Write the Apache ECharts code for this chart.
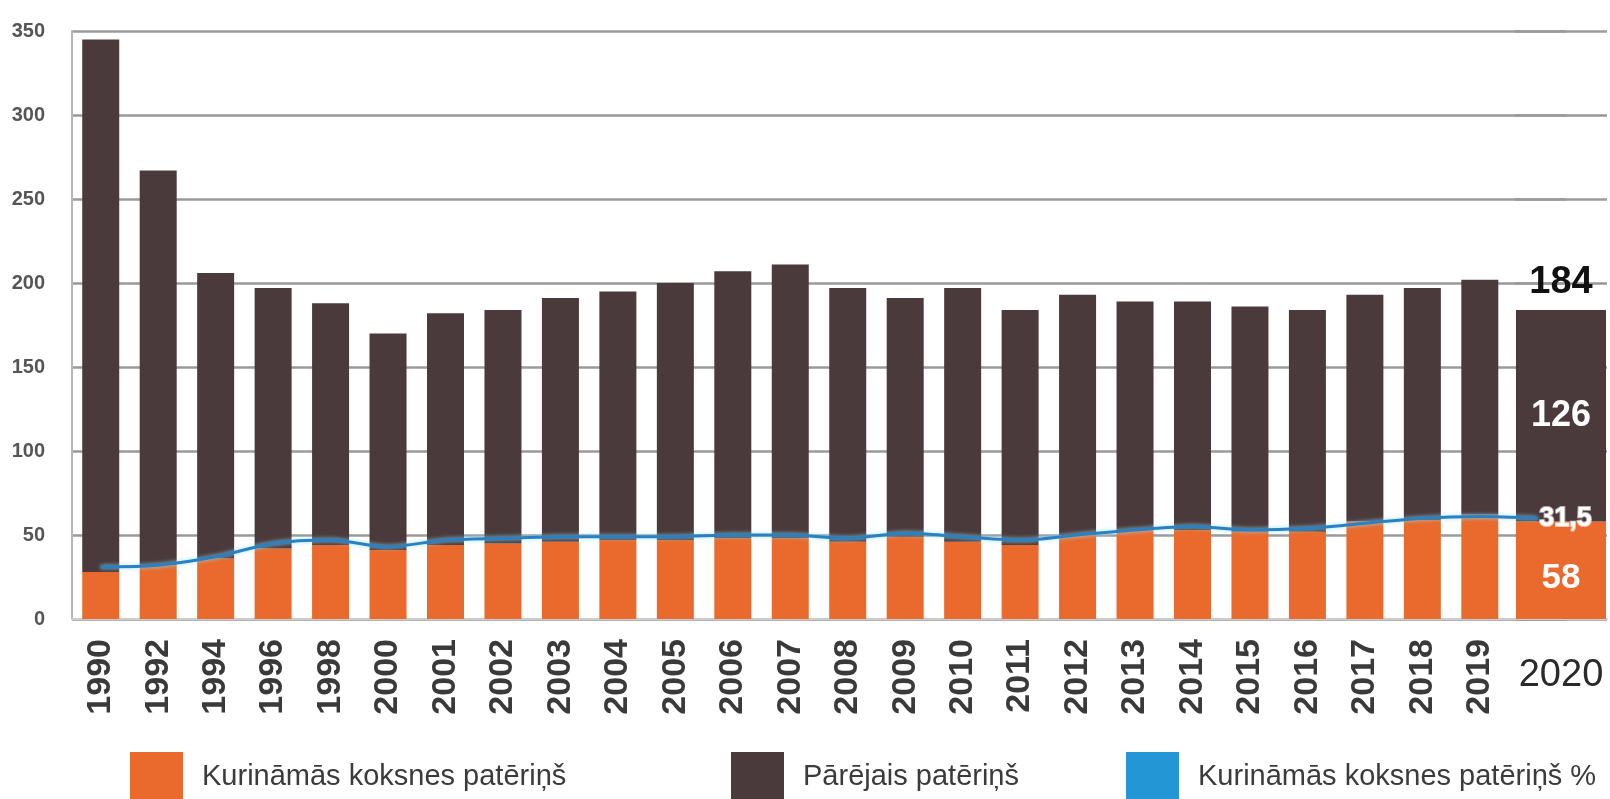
<!DOCTYPE html>
<html>
<head>
<meta charset="utf-8">
<script src="https://cdn.jsdelivr.net/npm/echarts@6/dist/echarts.min.js"></script>
<style>html,body{margin:0;padding:0;background:#fff;}#c{width:1610px;height:799px;}</style>
</head>
<body>
<div id="c"></div>
<script>
// ---- data ----
const years = ['1990','1992','1994','1996','1998','2000','2001','2002','2003','2004','2005','2006','2007','2008','2009','2010','2011','2012','2013','2014','2015','2016','2017','2018','2019','2020'];
const fuelwood = [28,32,36,42,44,41,44,45,46,47,47,48,48,46,49,46,44,50,53,53,52,52,58,59,62,58];
const other    = [317,235,170,155,144,129,138,139,145,148,153,159,163,151,142,151,140,143,136,136,134,132,135,138,140,126];
const shareLine = [31,32,37,45,47,43,47,48,49,49,49,50,50,48,51,49,47,50,53,55,53,54,57,60,61,60];
const shareLastLabel = '31,5';
const yTicks = [0,50,100,150,200,250,300,350];

const NAME_WOOD = 'Kurināmās koksnes patēriņš';
const NAME_OTHER = 'Pārējais patēriņš';
const NAME_PCT = 'Kurināmās koksnes patēriņš %';

const last = years.length - 1;
const FONT = "'Liberation Sans',Arial,sans-serif";
const C_OR = '#E96A2C', C_DK = '#4B3A3B', C_BL = '#2397D6';

const chart = echarts.init(document.getElementById('c'), null, {renderer:'canvas'});
const yBase = {
  type:'value', min:yTicks[0], max:yTicks[yTicks.length-1], interval:50,
  splitLine:{show:true, lineStyle:{color:'#9a9a9a', width:2.5}},
  axisTick:{show:false}
};
const legendText = {color:'#3b3b3b', fontSize:29, fontFamily:FONT, padding:[0,0,0,14]};
const legendBase = {top:752, padding:0, itemWidth:53, itemHeight:50, itemGap:0, icon:'rect', textStyle:legendText, selectedMode:false};
chart.setOption({
  animation:false,
  backgroundColor:'#fff',
  grid:[
    {left:72, right:44, top:31, bottom:180},
    {left:1515, right:3, top:31, bottom:180}
  ],
  xAxis:[
    {type:'category', gridIndex:0, data:years, boundaryGap:true,
     axisTick:{show:false}, axisLine:{show:true, lineStyle:{color:'#cccccc', width:2}},
     axisLabel:{interval:0, rotate:90, margin:20, fontSize:34, fontWeight:'bold', color:'#3a3a3a',
       fontFamily:FONT,
       formatter:(v,i)=> i===last ? '' : v}},
    {type:'category', gridIndex:1, data:[years[last]],
     axisTick:{show:false}, axisLine:{show:true, lineStyle:{color:'#cccccc', width:2}},
     axisLabel:{margin:38, fontSize:38, color:'#2a2a2a', fontFamily:FONT}}
  ],
  yAxis:[
    Object.assign({}, yBase, {gridIndex:0,
      axisLine:{show:true, lineStyle:{color:'#b5b5b5', width:2}},
      axisLabel:{margin:27, fontSize:20, fontWeight:'bold', color:'#555', fontFamily:FONT}}),
    Object.assign({}, yBase, {gridIndex:1, axisLine:{show:false}, axisLabel:{show:false}})
  ],
  legend:[
    Object.assign({left:130, data:[{name:NAME_WOOD}]}, legendBase),
    Object.assign({left:731, data:[{name:NAME_OTHER}]}, legendBase),
    Object.assign({left:1126, data:[{name:NAME_PCT}]}, legendBase)
  ],
  series:[
    {name:NAME_WOOD, type:'bar', stack:'a', xAxisIndex:0, yAxisIndex:0, barWidth:37, z:2,
     itemStyle:{color:C_OR}, data:fuelwood.map((v,i)=> i===last ? '-' : v)},
    {name:NAME_OTHER, type:'bar', stack:'a', xAxisIndex:0, yAxisIndex:0, barWidth:37, z:2,
     itemStyle:{color:C_DK}, data:other.map((v,i)=> i===last ? '-' : v)},
    {name:NAME_WOOD, type:'bar', stack:'b', xAxisIndex:1, yAxisIndex:1, barWidth:90, z:2,
     itemStyle:{color:C_OR}, data:[fuelwood[last]],
     label:{show:true, position:'inside', color:'#fff', fontSize:35, fontWeight:'bold', fontFamily:FONT, offset:[0,8]}},
    {name:NAME_OTHER, type:'bar', stack:'b', xAxisIndex:1, yAxisIndex:1, barWidth:90, z:2,
     itemStyle:{color:C_DK}, data:[other[last]],
     label:{show:true, position:'inside', color:'#fff', fontSize:36, fontWeight:'bold', fontFamily:FONT}},
    {name:'total', type:'bar', stack:'b', xAxisIndex:1, yAxisIndex:1, barWidth:90, z:2,
     itemStyle:{color:'transparent'}, data:[0],
     label:{show:true, position:'top', distance:8, color:'#111', fontSize:38, fontWeight:'bold', fontFamily:FONT,
       formatter:()=> String(fuelwood[last] + other[last])}},
    {name:NAME_PCT, type:'line', xAxisIndex:0, yAxisIndex:0, z:5, smooth:0.3, showSymbol:false, symbol:'none',
     itemStyle:{color:C_BL},
     lineStyle:{color:'#2a80c0', width:3, shadowColor:'rgba(140,225,255,0.9)', shadowBlur:4},
     data:shareLine,
     endLabel:{show:true, formatter:()=>shareLastLabel, distance:2, color:'#fff', fontSize:27, fontWeight:'bold',
       fontFamily:FONT, textBorderColor:'rgba(255,255,255,0.6)', textBorderWidth:2}}
  ]
});
</script>
</body>
</html>
